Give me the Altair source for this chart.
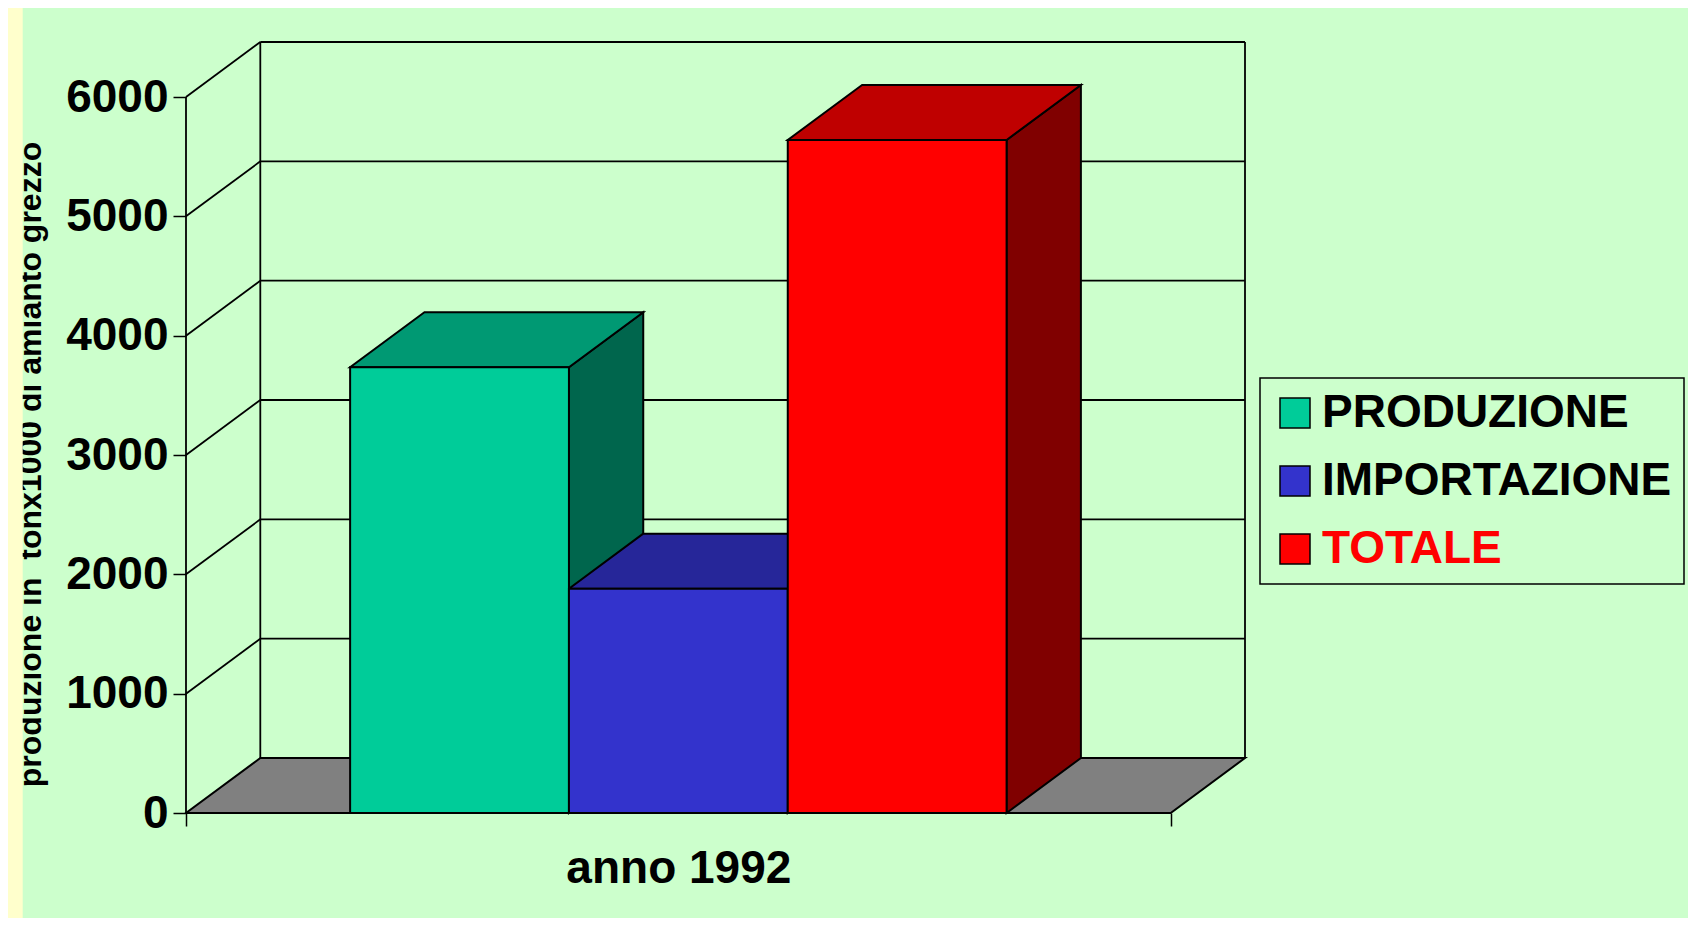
import altair as alt
import pandas as pd

# ---------------- data ----------------
SERIES = ["PRODUZIONE", "IMPORTAZIONE", "TOTALE"]
VALUES = [3735, 1880, 5640]
FRONT_COLORS = ["#00CC99", "#3333CC", "#FF0000"]
TOP_COLORS = ["#009973", "#262699", "#BF0000"]
SIDE_COLORS = ["#00664D", "#1A1A66", "#800000"]
Y_TICKS = [0, 1000, 2000, 3000, 4000, 5000, 6000]
CATEGORY_LABEL = "anno 1992"
Y_TITLE = "produzione in \u00a0tonx1000 di amianto grezzo"

# ---------------- layout / style ----------------
FONT = "Liberation Sans"
PLOT_W = 1059
PLOT_H = 771
GAP = 1.5            # Excel gap width (in bar widths)
DEPTH_X_PX = 74.3    # oblique depth offset
DEPTH_Y_PX = 55.0
BG = "#CCFFCC"
OUTER = "#FFFFCC"
PAD_L, PAD_T, PAD_R, PAD_B = 178, 34, 443, 105

n = len(SERIES)
y_top_tick = Y_TICKS[-1]
floor_len = n + GAP
x_max = floor_len * PLOT_W / (PLOT_W - DEPTH_X_PX)
dxu = x_max - floor_len
px_per_y = (PLOT_H - DEPTH_Y_PX) / y_top_tick
dyu = DEPTH_Y_PX / px_per_y
y_max = y_top_tick + dyu
px_per_x = PLOT_W / x_max

xs = alt.Scale(domain=[0, x_max], nice=False, zero=False, padding=0)
ys = alt.Scale(domain=[0, y_max], nice=False, zero=False, padding=0)

# ---------------- geometry tables built from the data ----------------
fronts, tops, sides = [], [], []
for i, (s, v) in enumerate(zip(SERIES, VALUES)):
    x0 = GAP / 2 + i
    x1 = x0 + 1
    fronts.append(dict(series=s, x0=x0, x1=x1, y0=0, v=v))
    tops.append(dict(series=s, y=v, xa=x0, xb=x1, fill=TOP_COLORS[i]))
    tops.append(dict(series=s, y=v + dyu, xa=x0 + dxu, xb=x1 + dxu, fill=TOP_COLORS[i]))
    sides.append(dict(series=s, x=x1, ya=0, yb=v, fill=SIDE_COLORS[i]))
    sides.append(dict(series=s, x=x1 + dxu, ya=dyu, yb=v + dyu, fill=SIDE_COLORS[i]))

floor = pd.DataFrame([
    dict(k="floor", y=0, xa=0, xb=floor_len),
    dict(k="floor", y=dyu, xa=dxu, xb=floor_len + dxu),
])

segs = [dict(xa=0, ya=0, xb=0, yb=y_top_tick),
        dict(xa=dxu, ya=dyu, xb=dxu, yb=y_top_tick + dyu),
        dict(xa=floor_len + dxu, ya=dyu, xb=floor_len + dxu, yb=y_top_tick + dyu)]
for t in Y_TICKS[1:]:
    segs.append(dict(xa=dxu, ya=t + dyu, xb=floor_len + dxu, yb=t + dyu))
    segs.append(dict(xa=0, ya=t, xb=dxu, yb=t + dyu))

fronts = pd.DataFrame(fronts)
tops = pd.DataFrame(tops)
sides = pd.DataFrame(sides)
segs = pd.DataFrame(segs)

# ---------------- axes (shared by every layer) ----------------
y_axis = alt.Axis(
    values=Y_TICKS, format="d", grid=False, domain=False, ticks=True, tickSize=13,
    tickWidth=1.5, tickColor="black", labelFont=FONT, labelFontSize=46,
    labelFontWeight="bold", labelColor="black", labelPadding=5,
    title=Y_TITLE, titleFont=FONT, titleFontSize=32, titleFontWeight="bold",
    titleColor="black", titleAngle=270, titleX=-146, titleY=422,
    titleAlign="center", titleBaseline="alphabetic",
)
x_axis = alt.Axis(
    values=[0, floor_len], grid=False, domain=False, labels=False, ticks=True,
    tickSize=13, tickWidth=1.5, tickColor="black",
    title=CATEGORY_LABEL, titleFont=FONT, titleFontSize=46, titleFontWeight="bold",
    titleColor="black", titleX=(floor_len / 2) * px_per_x, titleY=69,
    titleAlign="center", titleBaseline="alphabetic",
)

# ---------------- layers ----------------
strip = alt.Chart(pd.DataFrame({"a": [0]})).mark_rect(color=OUTER).encode(
    x=alt.value(-PAD_L), x2=alt.value(-PAD_L + 14.7),
    y=alt.value(-PAD_T), y2=alt.value(PLOT_H + PAD_B),
)

walls = alt.Chart(segs).mark_rule(color="black", strokeWidth=1.8).encode(
    x=alt.X("xa:Q", scale=xs, axis=x_axis),
    x2="xb:Q",
    y=alt.Y("ya:Q", scale=ys, axis=y_axis),
    y2="yb:Q",
)

floor_l = alt.Chart(floor).mark_area(
    orient="horizontal", color="#808080", stroke="black", strokeWidth=2, opacity=1
).encode(
    y=alt.Y("y:Q", scale=ys, axis=y_axis, stack=None),
    x=alt.X("xa:Q", scale=xs, axis=x_axis, stack=None),
    x2="xb:Q",
    detail="k:N",
)

side_l = alt.Chart(sides).mark_area(
    orient="vertical", stroke="black", strokeWidth=2, opacity=1
).encode(
    x=alt.X("x:Q", scale=xs, axis=x_axis, stack=None),
    y=alt.Y("ya:Q", scale=ys, axis=y_axis, stack=None),
    y2="yb:Q",
    detail="series:N",
    fill=alt.Fill("fill:N", scale=None),
)

top_l = alt.Chart(tops).mark_area(
    orient="horizontal", stroke="black", strokeWidth=2, opacity=1
).encode(
    y=alt.Y("y:Q", scale=ys, axis=y_axis, stack=None),
    x=alt.X("xa:Q", scale=xs, axis=x_axis, stack=None),
    x2="xb:Q",
    detail="series:N",
    fill=alt.Fill("fill:N", scale=None),
)

front_l = alt.Chart(fronts).mark_rect(stroke="black", strokeWidth=2, opacity=1).encode(
    x=alt.X("x0:Q", scale=xs, axis=x_axis),
    x2="x1:Q",
    y=alt.Y("y0:Q", scale=ys, axis=y_axis),
    y2="v:Q",
    color=alt.Color(
        "series:N",
        scale=alt.Scale(domain=SERIES, range=FRONT_COLORS),
        legend=alt.Legend(
            title=None, orient="none", legendX=1074, legendY=336,
            direction="vertical", fillColor=BG, strokeColor="black",
            padding=12, symbolType="square", symbolSize=900,
            symbolStrokeColor="black", symbolStrokeWidth=1.5, symbolOpacity=1,
            labelFont=FONT, labelFontSize=46, labelFontWeight="bold",
            labelOffset=4, labelLimit=0, rowPadding=22,
            labelColor=alt.ExprRef(expr="datum.label == 'TOTALE' ? '#FF0000' : '#000000'"),
        ),
    ),
)

chart = alt.layer(strip, walls, floor_l, side_l, top_l, front_l).properties(
    width=PLOT_W, height=PLOT_H, background=BG,
    autosize=alt.AutoSizeParams(type="none"),
    padding={"left": PAD_L, "top": PAD_T, "right": PAD_R, "bottom": PAD_B},
).configure(font=FONT).configure_view(
    stroke="transparent", fill="transparent"
).configure_legend(strokeWidth=1.5)

chart.save("out.html", embed_options={"renderer": "svg", "actions": False})
